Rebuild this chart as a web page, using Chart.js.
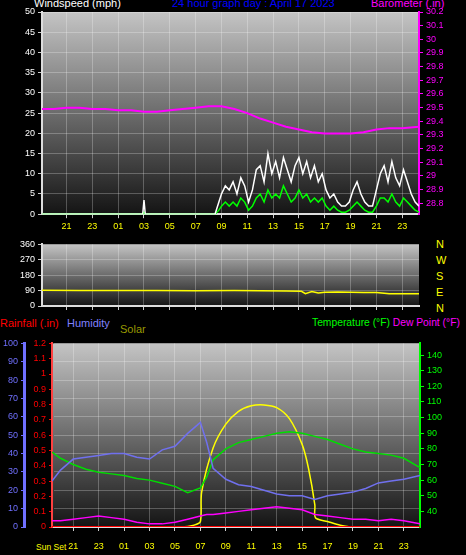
<!DOCTYPE html>
<html>
<head>
<meta charset="utf-8">
<script src="https://cdn.jsdelivr.net/npm/chart.js@4.4.0/dist/chart.umd.min.js"></script>
<style>
body { margin:0; background:#000; width:466px; height:555px; overflow:hidden; font-family:"Liberation Sans", Arial, sans-serif; }
canvas { position:absolute; left:0; }
.t { position:absolute; font-size:11px; white-space:nowrap; }
</style>
</head>
<body>
<div class="t" style="left:34px;top:-3px;color:#fff">Windspeed (mph)</div>
<div class="t" style="left:172px;top:-3px;color:#0000ff">24 hour graph day : April 17 2023</div>
<div class="t" style="left:371px;top:-3px;color:#ff00ff">Barometer (.in)</div>
<div class="t" style="left:436px;top:236px;color:#ffff00;line-height:16px;font-size:11px">N<br>W<br>S<br>E<br>N</div>
<div class="t" style="left:0;top:317px;color:#ff0000">Rainfall (.in)</div>
<div class="t" style="left:67px;top:317px;color:#8080ff">Humidity</div>
<div class="t" style="left:120px;top:323px;color:#999900">Solar</div>
<div class="t" style="left:312px;top:317px;color:#00ff00;font-size:10.3px">Temperature (°F) <span style="color:#ff00ff">Dew Point (°F)</span></div>
<div class="t" style="left:36px;top:542px;color:#ffff00;font-size:8.5px">Sun Set</div>
<canvas id="c1" width="466" height="235" style="top:0px"></canvas>
<canvas id="c2" width="466" height="80" style="top:236px"></canvas>
<canvas id="c3" width="466" height="220" style="top:335px"></canvas>
<script>
// hours since midnight of the first day (25 = 01 next day)
const hourTicks = [21, 23, 25, 27, 29, 31, 33, 35, 37, 39, 41, 43, 45, 47];

const baroHours = [19.1, 20, 21, 22, 23, 24, 25, 26, 27, 28, 29, 30, 31, 32, 33, 34, 35, 36, 37, 38, 39, 40, 41, 42, 43, 44, 45, 46, 47, 48.3];
const baroValues = [29.49, 29.49, 29.5, 29.5, 29.49, 29.49, 29.48, 29.48, 29.47, 29.47, 29.48, 29.49, 29.5, 29.51, 29.51, 29.49, 29.46, 29.42, 29.39, 29.36, 29.34, 29.32, 29.31, 29.31, 29.31, 29.32, 29.34, 29.35, 29.35, 29.36];

const windHours = [19.1, 26.9, 27.0, 27.1, 32.5, 32.8, 33.0, 33.3, 33.6, 33.9, 34.2, 34.5, 34.8, 35.1, 35.4, 35.7, 36.0, 36.3, 36.6, 36.9, 37.2, 37.5, 37.8, 38.1, 38.4, 38.7, 39.0, 39.3, 39.6, 39.9, 40.2, 40.5, 40.8, 41.1, 41.4, 41.7, 42.0, 42.3, 42.6, 42.9, 43.2, 43.5, 43.8, 44.1, 44.4, 44.7, 45.0, 45.3, 45.6, 45.9, 46.2, 46.5, 46.8, 47.1, 47.4, 47.7, 48.0, 48.3];
const windGust = [0, 0, 3.5, 0, 0, 3, 5, 7, 6, 8, 5, 9, 7, 3, 6, 11, 12, 8, 15, 10, 13, 9, 14, 11, 8, 12, 14, 10, 13, 9, 12, 8, 10, 6, 4, 5, 3, 2, 2, 3, 6, 8, 5, 3, 2, 2, 6, 10, 12, 8, 13, 9, 7, 11, 8, 5, 3, 2];
const windAvg = [0, 0, 0.5, 0, 0, 1, 2, 3, 2, 3, 2, 4, 3, 1, 2, 4, 5, 3, 6, 4, 5, 4, 7, 5, 3, 4, 6, 4, 5, 3, 4, 3, 4, 2, 1, 2, 1, 0.5, 0.5, 1, 2, 3, 2, 1, 0.5, 0.5, 2, 4, 4, 3, 5, 3, 2, 4, 3, 2, 1, 0.5];

const dirHours = [19.1, 22, 25, 28, 31, 34, 36, 38, 39.2, 39.5, 40, 40.5, 41, 42, 43, 44, 45, 46, 47, 48.3];
const dirValues = [92, 91, 90, 90, 89, 90, 89, 88, 86, 72, 84, 76, 80, 82, 80, 79, 79, 72, 71, 71];

const wxHours = [19.33, 20, 21, 22, 23, 24, 25, 26, 27, 28, 29, 30, 31, 31.5, 32, 33, 34, 35, 36, 37, 38, 39, 40, 41, 42, 43, 44, 45, 46, 47, 48.27];
const temperature = [78, 74, 70, 67, 65, 64, 63, 61, 60, 58, 56, 52, 55, 62, 73, 80, 84, 86, 88, 90, 91, 90, 88, 86, 83, 80, 78, 77, 76, 74, 68];
const humidity = [25, 31, 37, 38, 39, 40, 40, 38, 37, 42, 44, 51, 57, 46, 32, 26, 23, 22, 20, 18, 17, 17, 15, 17, 18, 19, 21, 24, 25, 26, 28];
const dewPoint = [34, 34, 35, 36, 37, 36, 35, 33, 32, 32, 33, 35, 37, 38, 38, 39, 40, 41, 42, 43, 42, 41, 38, 37, 36, 35, 35, 34, 35, 34, 32];
const rainfall = [0, 0, 0, 0, 0, 0, 0, 0, 0, 0, 0, 0, 0, 0, 0, 0, 0, 0, 0, 0, 0, 0, 0, 0, 0, 0, 0, 0, 0, 0, 0];

const solarHours = [19.33, 29.5, 30.5, 31.0, 31.1, 32, 33, 34, 35, 36, 37, 38, 39, 39.5, 40.0, 40.05, 41, 42, 43, 48.27];
const solarValues = [0, 0, 10, 30, 190, 430, 560, 630, 660, 665, 650, 590, 450, 320, 120, 50, 30, 10, 0, 0];

const tickFont = { family: 'Liberation Sans', size: 9 };
const hourLabel = v => String(v % 24).padStart(2, '0');

const bgPlugin = {
    id: 'bg',
    beforeDraw(chart) {
        const a = chart.chartArea, ctx = chart.ctx;
        const g = ctx.createLinearGradient(0, a.top, 0, a.bottom);
        g.addColorStop(0, '#c4c4c4');
        g.addColorStop(1, '#141414');
        ctx.save();
        ctx.fillStyle = g;
        ctx.fillRect(a.left, a.top, a.right - a.left, a.bottom - a.top);
        ctx.restore();
    }
};

function xAxis(min, max, show, pad) {
    return {
        type: 'linear', min: min, max: max,
        afterBuildTicks: s => { s.ticks = hourTicks.map(v => ({ value: v })); },
        ticks: { display: show, color: '#ffff00', font: tickFont, callback: hourLabel, maxRotation: 0, autoSkip: false, padding: pad || 3 },
        grid: { color: 'rgba(255,255,255,0.25)', tickColor: '#ccc', tickLength: 4 },
        border: { color: '#ddd', width: 2 }
    };
}

function pts(xs, ys) {
    return xs.map((x, i) => ({ x: x, y: ys[i] }));
}

const lineBase = { pointRadius: 0, borderWidth: 1.5, tension: 0 };

new Chart(document.getElementById('c1'), {
    type: 'line',
    data: {
        datasets: [
            { ...lineBase, data: pts(baroHours, baroValues), borderColor: '#ff00ff', yAxisID: 'baro', borderWidth: 2 },
            { ...lineBase, data: pts(windHours, windGust), borderColor: '#ffffff', yAxisID: 'y' },
            { ...lineBase, data: pts(windHours, windAvg), borderColor: '#00ff00', yAxisID: 'y' }
        ]
    },
    options: {
        animation: false, responsive: false,
        plugins: { legend: { display: false }, tooltip: { enabled: false } },
        layout: { padding: { top: 12, bottom: 0 } },
        scales: {
            x: xAxis(19.1, 48.3, true),
            y: {
                min: 0, max: 50,
                afterFit: s => { s.width = 42; },
                ticks: { stepSize: 5, color: '#ffffff', font: tickFont },
                grid: { color: 'rgba(255,255,255,0.25)', tickColor: '#ccc', tickLength: 4 },
                border: { color: '#ddd', width: 2 }
            },
            baro: {
                position: 'right', min: 28.72, max: 30.2,
                afterFit: s => { s.width = 47; },
                afterBuildTicks: s => { s.ticks = []; for (let i = 0; i <= 14; i++) s.ticks.push({ value: 28.8 + i * 0.1 }); },
                ticks: { color: '#ff00ff', font: tickFont, callback: v => +v.toFixed(1) },
                grid: { display: true, drawOnChartArea: false, tickColor: '#ff00ff', tickLength: 4 },
                border: { color: '#ff00ff', width: 2 }
            }
        }
    },
    plugins: [bgPlugin]
});

new Chart(document.getElementById('c2'), {
    type: 'line',
    data: {
        datasets: [
            { ...lineBase, data: pts(dirHours, dirValues), borderColor: '#ffff00', yAxisID: 'y' }
        ]
    },
    options: {
        animation: false, responsive: false,
        plugins: { legend: { display: false }, tooltip: { enabled: false } },
        layout: { padding: { top: 8, bottom: 0, right: 47 } },
        scales: {
            x: { ...xAxis(19.1, 48.3, false), afterFit: s => { s.height = 10; } },
            y: {
                min: 0, max: 360,
                afterFit: s => { s.width = 42; },
                ticks: { stepSize: 90, color: '#ffffff', font: tickFont },
                grid: { color: 'rgba(255,255,255,0.25)', tickColor: '#ccc', tickLength: 4 },
                border: { color: '#ddd', width: 2 }
            }
        }
    },
    plugins: [bgPlugin]
});

new Chart(document.getElementById('c3'), {
    type: 'line',
    data: {
        datasets: [
            { ...lineBase, data: pts(wxHours, rainfall), borderColor: '#ff0000', yAxisID: 'rain', borderWidth: 2 },
            { ...lineBase, data: pts(wxHours, dewPoint), borderColor: '#ff00ff', yAxisID: 'temp' },
            { ...lineBase, data: pts(wxHours, humidity), borderColor: '#7070ee', yAxisID: 'hum' },
            { ...lineBase, data: pts(wxHours, temperature), borderColor: '#00dd00', yAxisID: 'temp' },
            { ...lineBase, data: pts(solarHours, solarValues), borderColor: '#ffff00', yAxisID: 'solar', tension: 0.3 }
        ]
    },
    options: {
        animation: false, responsive: false,
        plugins: { legend: { display: false }, tooltip: { enabled: false } },
        layout: { padding: { top: 6, bottom: 0 } },
        scales: {
            x: { ...xAxis(19.33, 48.27, true, 10), afterFit: s => { s.height = 28; } },
            rain: {
                position: 'left', min: 0, max: 1.2,
                afterFit: s => { s.width = 28; },
                ticks: { stepSize: 0.1, color: '#ff0000', font: tickFont, callback: v => +v.toFixed(1) },
                grid: { drawOnChartArea: false, tickColor: '#ff0000', tickLength: 3 },
                border: { color: '#ff4040', width: 2, dash: [2, 2] }
            },
            hum: {
                position: 'left', min: 0, max: 100,
                afterFit: s => { s.width = 24; },
                ticks: { stepSize: 10, color: '#7070ff', font: tickFont },
                grid: { color: 'rgba(255,255,255,0.25)', tickColor: '#7070ff', tickLength: 3 },
                border: { color: '#7070ff', width: 3 }
            },
            temp: {
                position: 'right', min: 30, max: 147.5,
                afterFit: s => { s.width = 46; },
                afterBuildTicks: s => { s.ticks = []; for (let v = 40; v <= 140; v += 10) s.ticks.push({ value: v }); },
                ticks: { color: '#00ff00', font: tickFont },
                grid: { drawOnChartArea: false, tickColor: '#00ff00', tickLength: 4 },
                border: { color: '#00ff00', width: 2, dash: [2, 2] }
            },
            solar: { display: false, min: 0, max: 1000 }
        }
    },
    plugins: [bgPlugin]
});
</script>
</body>
</html>
